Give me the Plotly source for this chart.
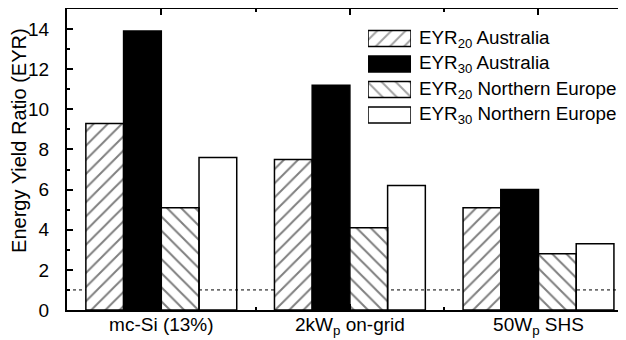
import plotly.graph_objects as go

categories = ["mc-Si (13%)", "2kW<sub>p</sub> on-grid", "50W<sub>p</sub> SHS"]
series_names = ["EYR<sub>20</sub> Australia", "EYR<sub>30</sub> Australia",
                "EYR<sub>20</sub> Northern Europe", "EYR<sub>30</sub> Northern Europe"]
eyr20_australia = [9.3, 7.5, 5.1]
eyr30_australia = [13.9, 11.2, 6.0]
eyr20_neurope = [5.1, 4.1, 2.8]
eyr30_neurope = [7.6, 6.2, 3.3]
threshold = 1.0
y_ticks = [0, 2, 4, 6, 8, 10, 12, 14]

FONT = "Arial, Liberation Sans, sans-serif"
x_pos = list(range(len(categories)))

styles = [
    dict(color="white", pattern=dict(shape="/", fgcolor="black", bgcolor="white", size=10, solidity=0.2)),
    dict(color="black"),
    dict(color="white", pattern=dict(shape="\\", fgcolor="black", bgcolor="white", size=10, solidity=0.2)),
    dict(color="rgba(0,0,0,0)"),
]
values = [eyr20_australia, eyr30_australia, eyr20_neurope, eyr30_neurope]

fig = go.Figure()
for name, vals, st in zip(series_names, values, styles):
    marker = dict(line=dict(color="black", width=1.5), **st)
    fig.add_trace(go.Bar(x=x_pos, y=vals, name=name, marker=marker, showlegend=False))

# custom legend swatches drawn on an auxiliary axis
leg_rows = list(range(len(series_names)))
fig.add_trace(go.Bar(
    x=[1] * len(series_names), y=leg_rows, orientation="h", width=0.63,
    xaxis="x2", yaxis="y2", showlegend=False, hoverinfo="skip",
    marker=dict(
        color=["white", "black", "white", "white"],
        line=dict(color="black", width=1.5),
        pattern=dict(shape=["/", "", "\\", ""], fgcolor="black", bgcolor="white", size=10, solidity=0.2),
    ),
))
for r, name in zip(leg_rows, series_names):
    fig.add_annotation(x=0.627, xref="paper", y=r, yref="y2", text=name, showarrow=False,
                       xanchor="left", yanchor="middle", font=dict(family=FONT, size=18.8, color="black"))

fig.add_shape(type="line", xref="paper", yref="y", x0=0, x1=1, y0=threshold, y1=threshold,
              line=dict(color="black", width=1, dash="dot"), layer="below")

# y-axis title placed as rotated text
fig.add_annotation(x=-0.0859, xref="paper", y=0.565, yref="paper", text="Energy Yield Ratio (EYR)",
                   textangle=-90, showarrow=False, xanchor="center", yanchor="middle",
                   font=dict(family=FONT, size=20, color="black"))

fig.update_layout(
    width=626, height=340,
    margin=dict(l=59, r=8, t=1, b=38),
    paper_bgcolor="white", plot_bgcolor="white",
    barmode="group", bargap=0.2, bargroupgap=0,
    font=dict(family=FONT, size=19, color="black"),
    xaxis=dict(range=[-0.5, 2.464], tickmode="array", tickvals=x_pos, ticktext=categories,
               ticks="inside", ticklen=6, tickwidth=1.5, tickcolor="black",
               showline=True, linecolor="black", linewidth=2, mirror="ticks",
               showgrid=False, zeroline=False, automargin=False, ticklabelstandoff=-4,
               minor=dict(tickvals=[0.5, 1.5], ticks="inside", ticklen=3, tickwidth=1.5, tickcolor="black"),
               tickfont=dict(size=19)),
    yaxis=dict(range=[0, 15], tickmode="array", tickvals=y_ticks,
               ticks="inside", ticklen=6, tickwidth=1.5, tickcolor="black",
               showline=True, linecolor="black", linewidth=2, mirror=False,
               showgrid=False, zeroline=False, ticklabelstandoff=12, automargin=False,
               minor=dict(dtick=1, ticks="inside", ticklen=3, tickwidth=1.5, tickcolor="black"),
               tickfont=dict(size=19)),
    xaxis2=dict(domain=[0.5385, 0.6154], range=[0, 1], visible=False, anchor="y2",
                fixedrange=True, automargin=False),
    yaxis2=dict(domain=[0.6055, 0.944], range=[3.5, -0.5], visible=False, anchor="x2",
                fixedrange=True, automargin=False),
)

fig.write_html("out.html")
